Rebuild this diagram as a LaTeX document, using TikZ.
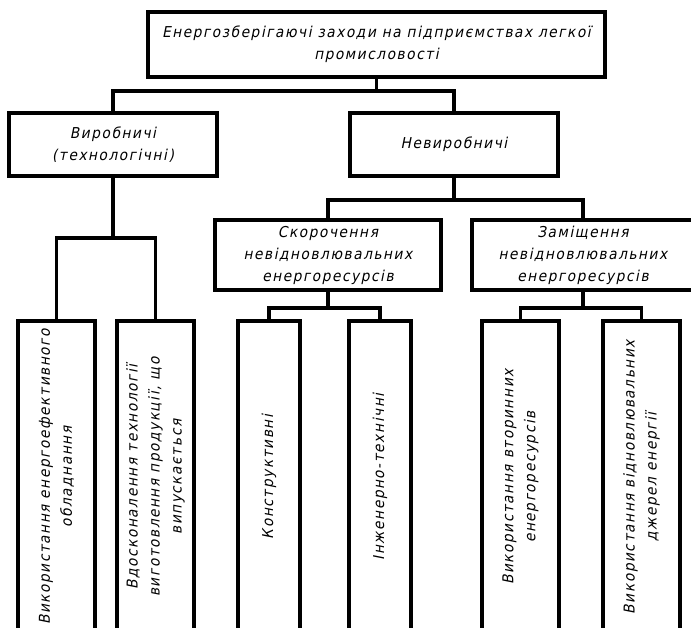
\documentclass[tikz,border=0pt]{standalone}
\usepackage{fontspec}
\newfontfamily\gost{DejaVu Sans}[FakeSlant=0.2,FakeStretch=0.92,LetterSpace=10]
\usetikzlibrary{calc}
\begin{document}
\begin{tikzpicture}[x=1pt,y=-1pt,
  box/.style={draw, line width=3.2pt, inner sep=0pt, align=center, font=\gost\fontsize{15}{22}\selectfont},
  vtext/.style={rotate=90, inner sep=0pt, align=center, font=\gost\fontsize{15}{22}\selectfont},
  conn/.style={line width=3.2pt}]
\fill[white] (0,0) rectangle (691,628);
\clip (0,0) rectangle (691,628);
\node[box, minimum width=457, minimum height=65] (top) at (376.5,44.5) {Енергозберігаючі заходи на підприємствах легкої\\промисловості};
\node[box, minimum width=208, minimum height=63] (vyr) at (113,144.5) {Виробничі\\(технологічні)};
\node[box, minimum width=208, minimum height=63] (nevyr) at (454,144.5) {Невиробничі};
\node[box, minimum width=226, minimum height=70] (skor) at (328,255) {Скорочення\\невідновлювальних\\енергоресурсів};
\node[box, minimum width=222, minimum height=70] (zam) at (583,255) {Заміщення\\невідновлювальних\\енергоресурсів};
\node[box, minimum width=77, minimum height=312] (b1) at (56.5,477) {};
\node[box, minimum width=77, minimum height=312] (b2) at (155.5,477) {};
\node[box, minimum width=62, minimum height=312] (b3) at (269,477) {};
\node[box, minimum width=62, minimum height=312] (b4) at (380,477) {};
\node[box, minimum width=77, minimum height=312] (b5) at (520.5,477) {};
\node[box, minimum width=77, minimum height=312] (b6) at (641.5,477) {};
\node[vtext] (t1) at (b1) {Використання енергоефективного\\обладнання};
\node[vtext] (t2) at (b2) {Вдосконалення технології\\виготовлення продукції, що\\випускається};
\node[vtext] (t3) at (b3) {Конструктивні};
\node[vtext] (t4) at (b4) {Інженерно-технічні};
\node[vtext] (t5) at (b5) {Використання вторинних\\енергоресурсів};
\node[vtext] (t6) at (b6) {Використання відновлювальних\\джерел енергії};
\draw[conn] (top.south) -- (top.south |- 0,91);
\draw[conn] (vyr.north) |- (nevyr.north |- 0,91) -- (nevyr.north);
\draw[conn] (vyr.south) -- (vyr.south |- 0,238);
\draw[conn] (b1.north) |- (b2.north |- 0,238) -- (b2.north);
\draw[conn] (nevyr.south) -- (nevyr.south |- 0,200);
\draw[conn] (skor.north) |- (zam.north |- 0,200) -- (zam.north);
\draw[conn] (skor.south) -- (skor.south |- 0,308);
\draw[conn] (b3.north) |- (b4.north |- 0,308) -- (b4.north);
\draw[conn] (zam.south) -- (zam.south |- 0,308);
\draw[conn] (b5.north) |- (b6.north |- 0,308) -- (b6.north);
\end{tikzpicture}
\end{document}
